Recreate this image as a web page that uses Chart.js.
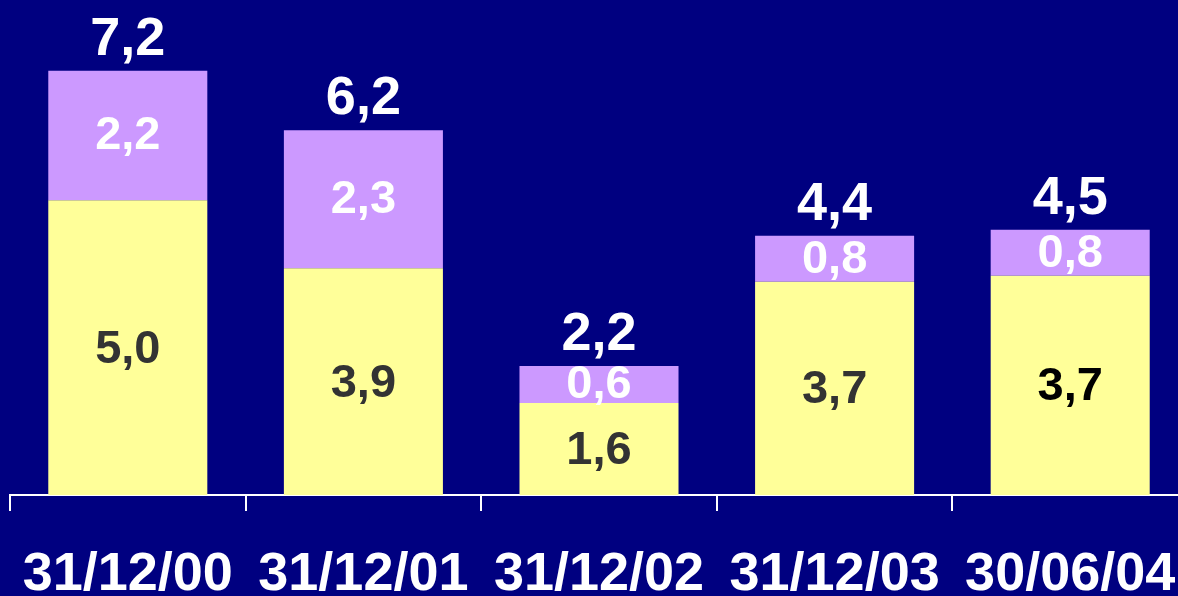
<!DOCTYPE html>
<html>
<head>
<meta charset="utf-8">
<script src="https://cdn.jsdelivr.net/npm/chart.js@4"></script>
<style>
  html, body { margin: 0; padding: 0; background: #000080; overflow: hidden; }
  #chart { display: block; }
</style>
</head>
<body>
<canvas id="chart" width="1188" height="596"></canvas>
<script>
const categories = ['31/12/00', '31/12/01', '31/12/02', '31/12/03', '30/06/04']
const lowerValues = [5.0, 3.85, 1.56, 3.62, 3.72]
const upperValues = [2.2, 2.34, 0.63, 0.78, 0.78]
const lowerLabels = ['5,0', '3,9', '1,6', '3,7', '3,7']
const upperLabels = ['2,2', '2,3', '0,6', '0,8', '0,8']
const totalLabels = ['7,2', '6,2', '2,2', '4,4', '4,5']
const lowerLabelColors = ['#333333', '#333333', '#333333', '#333333', '#000000']

const FONT = '"Liberation Sans", Arial, sans-serif'

const barLabels = {
  id: 'barLabels',
  afterDatasetsDraw(chart) {
    const ctx = chart.ctx
    const lower = chart.getDatasetMeta(0).data
    const upper = chart.getDatasetMeta(1).data
    ctx.save()
    ctx.textAlign = 'center'
    ctx.textBaseline = 'middle'
    ctx.font = 'bold 47px ' + FONT
    lower.forEach((bar, i) => {
      ctx.fillStyle = lowerLabelColors[i]
      ctx.fillText(lowerLabels[i], bar.x, (bar.y + bar.base) / 2 + 2)
    })
    upper.forEach((bar, i) => {
      ctx.fillStyle = '#ffffff'
      ctx.fillText(upperLabels[i], bar.x, (bar.y + bar.base) / 2 + 1)
    })
    ctx.textBaseline = 'alphabetic'
    ctx.font = 'bold 54px ' + FONT
    upper.forEach((bar, i) => {
      ctx.fillStyle = '#ffffff'
      ctx.fillText(totalLabels[i], bar.x, bar.y - 16)
    })
    ctx.restore()
  }
}

new Chart(document.querySelector('#chart'), {
  type: 'bar',
  data: {
    labels: categories,
    datasets: [{
      data: lowerValues,
      backgroundColor: '#ffff99',
      borderWidth: 0
    }, {
      data: upperValues,
      backgroundColor: '#cc99ff',
      borderWidth: 0
    }]
  },
  options: {
    responsive: false,
    animation: false,
    layout: { padding: { left: 10, right: 0, top: 0, bottom: 0 } },
    datasets: {
      bar: { barPercentage: 0.9, categoryPercentage: 0.75 }
    },
    plugins: {
      legend: { display: false },
      tooltip: { enabled: false }
    },
    scales: {
      x: {
        stacked: true,
        border: { color: '#ffffff', width: 2 },
        grid: {
          offset: true,
          drawOnChartArea: false,
          drawTicks: true,
          tickLength: 16,
          color: '#ffffff',
          lineWidth: 2
        },
        ticks: {
          color: '#ffffff',
          padding: 32,
          font: { family: FONT, size: 54, weight: 'bold', lineHeight: 1.2 }
        },
        afterFit(scale) {
          scale.height = 101
          scale.paddingLeft = 0
          scale.paddingRight = 0
        }
      },
      y: {
        stacked: true,
        display: false,
        min: 0,
        max: 8.4
      }
    }
  },
  plugins: [barLabels]
})
</script>
</body>
</html>
